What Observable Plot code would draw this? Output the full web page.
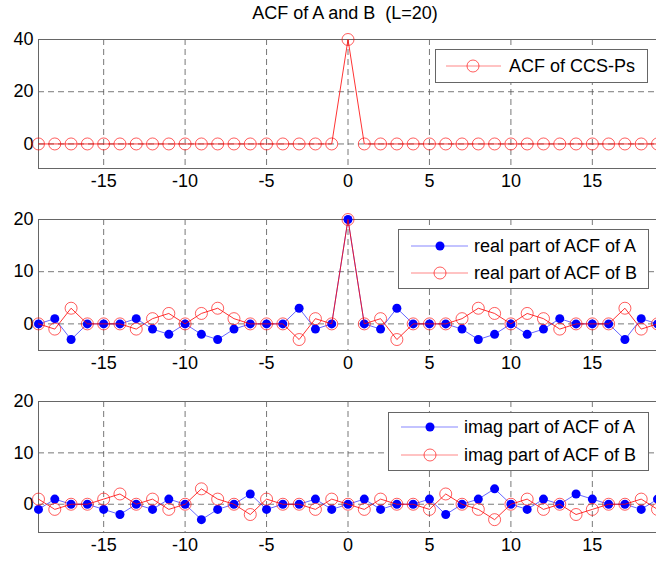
<!DOCTYPE html>
<html>
<head>
<meta charset="utf-8">
<script src="https://cdn.jsdelivr.net/npm/d3@7"></script>
<script src="https://cdn.jsdelivr.net/npm/@observablehq/plot@0.6"></script>
<style>
  html, body { margin: 0; padding: 0; background: #fff; }
  #root { position: relative; width: 656px; height: 561px; overflow: hidden; font-family: "Liberation Sans", Arial, sans-serif; }
  .panel { position: absolute; left: 0; }
  .panel svg { overflow: visible; }
  #title { position: absolute; top: 3px; left: 345px; transform: translateX(-50%); font-size: 18px; white-space: pre; color: #000; }
  .legend { position: absolute; background: #fff; border: 1px solid #666; box-sizing: border-box; }
</style>
</head>
<body>
<div id="root"><div id="title">ACF of A and B  (L=20)</div></div>
<script>
// ---- data ----
const lags = [-19,-18,-17,-16,-15,-14,-13,-12,-11,-10,-9,-8,-7,-6,-5,-4,-3,-2,-1,0,1,2,3,4,5,6,7,8,9,10,11,12,13,14,15,16,17,18,19];
const acfCCS = [0,0,0,0,0,0,0,0,0,0,0,0,0,0,0,0,0,0,0,40,0,0,0,0,0,0,0,0,0,0,0,0,0,0,0,0,0,0,0];
const realA = [0,1,-3,0,0,0,1,-1,-2,0,-2,-3,-1,0,0,0,3,-1,0,20,0,-1,3,0,0,0,-1,-3,-2,0,-2,-1,1,0,0,0,-3,1,0];
const realB = [0,-1,3,0,0,0,-1,1,2,0,2,3,1,0,0,0,-3,1,0,20,0,1,-3,0,0,0,1,3,2,0,2,1,-1,0,0,0,3,-1,0];
const imagA = [-1,1,0,0,-1,-2,0,-1,1,0,-3,-1,0,2,-1,0,0,1,-1,0,1,-1,0,0,1,-2,0,1,3,0,-1,1,0,2,1,0,0,-1,1];
const imagB = [1,-1,0,0,1,2,0,1,-1,0,3,1,0,-2,1,0,0,-1,1,0,-1,1,0,0,-1,2,0,-1,-3,0,1,-1,0,-2,-1,0,0,1,-1];
const xTicks = [-15,-10,-5,0,5,10,15];
const yTicks1 = [0,20,40];
const yTicks23 = [0,10,20];
const legend1 = ["ACF of CCS-Ps"];
const legend2 = ["real part of ACF of A", "real part of ACF of B"];
const legend3 = ["imag part of ACF of A", "imag part of ACF of B"];

const root = document.getElementById("root");
const FONT = "'Liberation Sans', Arial, sans-serif";
const RED = "#ff0000", BLUE = "#0000ff";

function rows(vals) { return lags.map((l, i) => ({lag: l, v: vals[i]})); }

function panel({top, height, mt, mb, yDomain, yTicks, series}) {
  const marks = [
    Plot.ruleX(xTicks, {stroke: "#555", strokeWidth: 0.8, strokeDasharray: "6,4"}),
    Plot.ruleY(yTicks, {stroke: "#555", strokeWidth: 0.8, strokeDasharray: "6,4"}),
    Plot.frame({stroke: "#666", strokeWidth: 1}),
    Plot.axisX(xTicks, {tickSize: 0, tickPadding: 6, fontSize: 18, tickFormat: d => String(d)}),
    Plot.axisY(yTicks, {tickSize: 0, tickPadding: 5, fontSize: 18, tickFormat: d => String(d)})
  ];
  for (const s of series) {
    const d = rows(s.values);
    marks.push(Plot.line(d, {x: "lag", y: "v", stroke: s.color, strokeWidth: s.filled ? 0.6 : 0.8}));
    if (s.filled) marks.push(Plot.dot(d, {x: "lag", y: "v", r: 4.5, fill: s.color, stroke: "none"}));
    else marks.push(Plot.dot(d, {x: "lag", y: "v", r: 6, fill: "none", stroke: s.color, strokeWidth: 0.8, strokeOpacity: 0.8}));
  }
  const chart = Plot.plot({
    width: 656, height, marginLeft: 38, marginRight: -1, marginTop: mt, marginBottom: mb,
    x: {domain: [-19, 19], label: null},
    y: {domain: yDomain, label: null},
    style: {fontFamily: FONT, fontSize: "18px", color: "#000", background: "transparent", overflow: "visible"},
    marks
  });
  const wrap = document.createElement("div");
  wrap.className = "panel";
  wrap.style.top = top + "px";
  wrap.appendChild(chart);
  root.appendChild(wrap);
}

function legend({left, top, w, h, items, rowY, sx0, sx1, mx, tx}) {
  const div = document.createElement("div");
  div.className = "legend";
  Object.assign(div.style, {left: left + "px", top: top + "px", width: w + "px", height: h + "px"});
  const svg = d3.create("svg").attr("width", w - 2).attr("height", h - 2).style("display", "block");
  items.forEach((it, i) => {
    const y = rowY[i] - 1;
    svg.append("line").attr("x1", sx0).attr("x2", sx1).attr("y1", y).attr("y2", y)
      .attr("stroke", it.color).attr("stroke-width", 0.6).attr("stroke-opacity", 0.8);
    if (it.filled) svg.append("circle").attr("cx", mx).attr("cy", y).attr("r", 4.5).attr("fill", it.color);
    else svg.append("circle").attr("cx", mx).attr("cy", y).attr("r", 6).attr("fill", "none")
      .attr("stroke", it.color).attr("stroke-width", 0.8).attr("stroke-opacity", 0.8);
    svg.append("text").attr("x", tx).attr("y", y).attr("dy", "0.35em")
      .attr("font-family", FONT).attr("font-size", 18).attr("fill", "#000").text(it.label);
  });
  div.appendChild(svg.node());
  root.appendChild(div);
}

panel({top: 20, height: 180, mt: 19, mb: 32, yDomain: [-9.4, 40], yTicks: yTicks1,
  series: [{values: acfCCS, color: RED, filled: false}]});
panel({top: 200, height: 180, mt: 19, mb: 30, yDomain: [-5.1, 20], yTicks: yTicks23,
  series: [{values: realA, color: BLUE, filled: true}, {values: realB, color: RED, filled: false}]});
panel({top: 381, height: 180, mt: 20, mb: 29, yDomain: [-5.5, 20], yTicks: yTicks23,
  series: [{values: imagA, color: BLUE, filled: true}, {values: imagB, color: RED, filled: false}]});

legend({left: 435, top: 49, w: 213, h: 34, rowY: [17], sx0: 10, sx1: 65, mx: 37, tx: 73,
  items: [{label: legend1[0], color: RED, filled: false}]});
legend({left: 398, top: 229, w: 251, h: 60, rowY: [17, 44], sx0: 12, sx1: 69, mx: 41, tx: 75,
  items: [{label: legend2[0], color: BLUE, filled: true}, {label: legend2[1], color: RED, filled: false}]});
legend({left: 388, top: 412, w: 261, h: 59, rowY: [15, 43], sx0: 12, sx1: 69, mx: 41, tx: 75,
  items: [{label: legend3[0], color: BLUE, filled: true}, {label: legend3[1], color: RED, filled: false}]});
</script>
</body>
</html>
